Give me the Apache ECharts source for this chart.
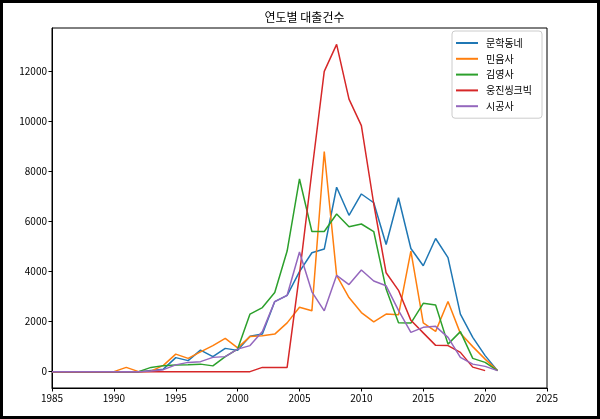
<!DOCTYPE html>
<html><head><meta charset="utf-8">
<script src="https://cdn.jsdelivr.net/npm/echarts@6/dist/echarts.min.js"></script>
<style>html,body{margin:0;padding:0;background:#fff}#c{width:600px;height:419px}</style>
</head><body><div id="c"></div>
<script>
const title = '연도별 대출건수';
const startYear = 1985;
const seriesNames = ['문학동네', '민음사', '김영사', '웅진씽크빅', '시공사'];
const munhak = [0,0,0,0,0,0,0,0,50,100,560,440,860,600,930,850,1410,1500,2800,3050,4000,4750,4900,7370,6250,7100,6750,5080,6950,4920,4230,5320,4560,2300,1370,640,40];
const minum = [0,0,0,0,0,0,170,0,20,250,700,530,790,1040,1330,950,1400,1430,1500,1950,2570,2430,8800,3850,2960,2360,1990,2300,2270,4820,1950,1610,2800,1530,1000,500,40];
const gimyoung = [0,0,0,0,0,0,0,0,170,240,270,280,300,230,600,900,2300,2560,3160,4820,7700,5600,5600,6300,5790,5900,5600,3300,1950,1940,2730,2660,1100,1600,530,370,40];
const woongjin = [0,0,0,0,0,0,0,0,0,0,0,0,0,0,0,0,0,170,170,170,3900,8000,12000,13080,10890,9830,6700,3950,3250,2050,1550,1050,1040,770,180,40];
const sigong = [0,0,0,0,0,0,0,0,30,80,270,370,400,570,600,900,1040,1600,2800,3050,4780,3190,2430,3850,3480,4060,3620,3430,2450,1570,1770,1810,1370,570,300,210,40];
const xTicks = [1985,1990,1995,2000,2005,2010,2015,2020,2025];
const yTicks = [0,2000,4000,6000,8000,10000,12000];

const allValues = [munhak, minum, gimyoung, woongjin, sigong];
const colors = ['#1f77b4','#ff7f0e','#2ca02c','#d62728','#9467bd'];
const FONT = '"Noto Sans CJK KR", "DejaVu Sans", sans-serif';

const chart = echarts.init(document.getElementById('c'), null, {renderer: 'canvas'});
const series = allValues.map((vals, i) => ({
  name: seriesNames[i],
  type: 'line',
  data: vals.map((v, k) => [startYear + k, v]),
  symbol: 'none',
  lineStyle: {width: 1.5, color: colors[i]},
  itemStyle: {color: colors[i]},
  animation: false
}));

let ymax = 0;
allValues.forEach(a => a.forEach(v => { if (v > ymax) ymax = v; }));
const pad = ymax * 0.05;

chart.setOption({
  animation: false,
  backgroundColor: '#fff',
  title: {
    text: title, left: 299.5, top: 6, textAlign: 'center',
    textStyle: {fontFamily: FONT, fontSize: 12, fontWeight: 'normal', color: '#000'}
  },
  grid: {left: 52, right: 53, top: 28, bottom: 31, show: true, borderColor: '#000', borderWidth: 1, backgroundColor: 'transparent'},
  legend: {
    orient: 'vertical', left: 452, top: 31,
    padding: [6, 10, 6, 4],
    backgroundColor: '#fff', borderColor: '#ccc', borderWidth: 1, borderRadius: 3,
    icon: 'rect', itemWidth: 22, itemHeight: 2, itemGap: 3.8,
    textStyle: {fontFamily: FONT, fontSize: 10, color: '#000', lineHeight: 12, padding: [0,0,0,3]},
    data: seriesNames
  },
  xAxis: {
    type: 'value', min: xTicks[0], max: xTicks[xTicks.length - 1], interval: 5,
    axisLine: {show: true, onZero: false, lineStyle: {color: '#000', width: 1}},
    axisTick: {show: true, length: 3.5, lineStyle: {color: '#000'}},
    axisLabel: {fontFamily: FONT, fontSize: 10, color: '#000', margin: 5, formatter: v => String(v)},
    splitLine: {show: false}
  },
  yAxis: {
    type: 'value', min: -pad, max: ymax + pad,
    axisLine: {show: true, lineStyle: {color: '#000', width: 1}},
    axisTick: {show: true, length: 3.5, lineStyle: {color: '#000'}, customValues: yTicks},
    axisLabel: {fontFamily: FONT, fontSize: 10, color: '#000', margin: 5, customValues: yTicks, formatter: v => String(v)},
    splitLine: {show: false}
  },
  graphic: [{
    type: 'rect', silent: true, z: 100,
    shape: {x: 0, y: 0, width: 600, height: 419},
    style: {fill: 'none', stroke: '#000', lineWidth: 6}
  }],
  series: series
});
</script></body></html>
